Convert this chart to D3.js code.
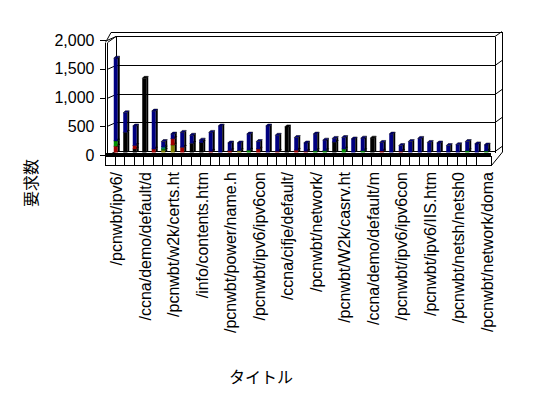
<!DOCTYPE html>
<html>
<head>
<meta charset="utf-8">
<script src="https://cdn.jsdelivr.net/npm/d3@7"></script>
<style>
  body { margin: 0; background: #fff; }
  text { font-family: "Liberation Sans", Arial, sans-serif; fill: #000; }
</style>
</head>
<body>
<script>
  // 40 categories, only every third one gets a label
  const categories = d3.range(40);
  const tickLabels = [
    '/pcnwbt/ipv6/', '/ccna/demo/default/d', '/pcnwbt/w2k/certs.ht', '/info/contents.htm',
    '/pcnwbt/power/name.h', '/pcnwbt/ipv6/ipv6con', '/ccna/cifje/default/', '/pcnwbt/network/',
    '/pcnwbt/W2k/casrv.ht', '/ccna/demo/default/m', '/pcnwbt/ipv6/ipv6con', '/pcnwbt/ipv6/IIS.htm',
    '/pcnwbt/netsh/netsh0', '/pcnwbt/network/doma'
  ];
  const yTicks = [0, 500, 1000, 1500, 2000];

  const black = [0,350,60,1290,0,0,0,0,160,170, 0,0,0,0,0,0,0,0,445,0, 0,0,0,180,0,0,0,250,0,0, 0,0,0,0,0,0,0,0,0,0];
  const olive = [0,0,0,0,0,40,130,0,0,0, 0,0,0,30,0,0,0,0,0,0, 0,0,0,0,0,0,0,0,0,0, 0,0,0,0,0,0,0,0,0,0];
  const red = [110,0,60,0,60,0,110,90,0,0, 20,0,30,0,0,60,0,20,0,40, 20,0,0,0,0,0,0,0,25,0, 20,0,0,0,0,0,0,0,0,0];
  const green = [90,0,0,0,0,25,0,0,0,0, 0,0,0,0,40,0,0,0,0,0, 0,30,30,0,60,0,30,0,0,0, 0,0,0,0,0,0,0,30,0,25];
  const teal = [0,0,0,0,0,30,0,0,0,0, 0,0,0,0,0,0,0,0,0,0, 0,0,0,0,0,0,0,0,0,0, 0,0,0,0,0,0,0,0,0,0];
  const navy = [1440,340,340,0,660,95,80,260,140,45, 330,460,135,135,280,130,460,280,0,220,
                145,290,185,65,200,235,220,0,150,320, 100,190,245,175,165,120,135,160,150,105];

  const seriesKeys = ['black', 'olive', 'red', 'green', 'teal', 'navy'];
  const colors = {
    black: '#000000', olive: '#808000', red: '#a00000',
    green: '#009000', teal: '#008080', navy: '#000080'
  };
  const table = categories.map((c, i) => ({
    cat: c, black: black[i], olive: olive[i], red: red[i],
    green: green[i], teal: teal[i], navy: navy[i]
  }));

  const width = 548;
  const height = 398;
  const depth = { x: 9, y: -4 };

  const svg = d3.select('body').append('svg')
    .attr('width', width)
    .attr('height', height);

  const x = d3.scaleBand()
    .domain(categories)
    .range([105, 485])
    .paddingInner(0)
    .paddingOuter(0);

  const y = d3.scaleLinear()
    .domain([0, 2000])
    .range([155, 40]);

  const x0 = 107, x1 = 486;
  const frame = svg.append('g')
    .attr('fill', 'none')
    .attr('stroke', '#000')
    .attr('stroke-width', 1)
    .attr('shape-rendering', 'crispEdges');

  // back wall gridlines and left wall diagonals
  yTicks.forEach((t) => {
    const yf = Math.round(y(t)) + 0.5;
    const yb = yf + depth.y;
    frame.append('line')
      .attr('x1', x0 + depth.x).attr('x2', x1 + depth.x)
      .attr('y1', yb).attr('y2', yb);
    frame.append('path')
      .attr('shape-rendering', 'auto')
      .attr('d', `M${x0},${yf}L${x0 + depth.x},${yb}`);
    frame.append('path')
      .attr('shape-rendering', 'auto')
      .attr('d', `M${x1 + depth.x},${yb}L${x1 + depth.x + 7},${yb - 5}`);
  });

  const yTop = Math.round(y(2000)) + 0.5;
  // wall outlines
  frame.append('path').attr('d', `M105.5,${yTop + 2}V165.5`);
  frame.append('path').attr('d', `M${x0 + 0.5},${yTop + 2}V156`);
  frame.append('path').attr('d', `M${x0 + depth.x + 0.5},${yTop + depth.y}V152`);
  frame.append('path').attr('d', `M${x1 + depth.x + 0.5},${yTop + depth.y}V153`);
  frame.append('path').attr('d', `M${x1 + depth.x + 7.5},${yTop + depth.y - 5}V152`);
  frame.append('path')
    .attr('shape-rendering', 'auto')
    .attr('d', `M105.5,${yTop + 2}L111,${yTop - 8}H${x1 + depth.x + 7.5}`);
  frame.append('path')
    .attr('shape-rendering', 'auto')
    .attr('d', `M${x0 + 0.5},${yTop + 2}L${x0 + depth.x},${yTop + depth.y}`);

  // floor
  svg.append('rect')
    .attr('x', 105).attr('y', 153)
    .attr('width', 386).attr('height', 3.5)
    .attr('fill', '#000');
  frame.append('rect')
    .attr('x', 105.5).attr('y', 156.5)
    .attr('width', 386).attr('height', 9);
  categories.slice(1).forEach((c) => {
    const xx = Math.round(x(c)) + 0.5;
    frame.append('line')
      .attr('x1', xx).attr('x2', xx)
      .attr('y1', 156.5).attr('y2', 165.5);
  });
  frame.append('path')
    .attr('shape-rendering', 'auto')
    .attr('d', `M491.5,165.5L${x1 + depth.x + 7.5},152`);

  // stacked 3d columns
  const stacked = d3.stack().keys(seriesKeys)(table);
  const bw = 4;
  const bd = { x: 2, y: -2 };
  const barsG = svg.append('g');

  categories.forEach((c, i) => {
    const cx = x(c) + x.bandwidth() / 2 + 7;
    const left = cx - bw / 2 - 1;
    stacked.forEach((s) => {
      const d = s[i];
      if (d[1] - d[0] <= 0) return;
      const yt = y(d[1]) - 2.5;
      const yb = y(d[0]) - 2.5;
      const col = colors[s.key];
      barsG.append('rect')
        .attr('x', left).attr('y', yt)
        .attr('width', bw).attr('height', yb - yt)
        .attr('fill', col);
      barsG.append('path')
        .attr('d', `M${left + bw},${yt}L${left + bw + bd.x},${yt + bd.y}L${left + bw + bd.x},${yb + bd.y}L${left + bw},${yb}Z`)
        .attr('fill', '#000');
      barsG.append('path')
        .attr('d', `M${left},${yt}L${left + bd.x},${yt + bd.y}L${left + bw + bd.x},${yt + bd.y}L${left + bw},${yt}Z`)
        .attr('fill', col)
        .attr('stroke', '#000')
        .attr('stroke-width', 0.5);
    });
  });

  // y axis
  const yAxis = svg.append('g')
    .attr('transform', 'translate(105.5,0)')
    .call(d3.axisLeft(y).tickValues(yTicks).tickFormat(d3.format(',')).tickSize(6).tickPadding(5))
    .attr('font-family', null)
    .attr('font-size', null);
  yAxis.select('.domain').remove();
  yAxis.selectAll('line').attr('stroke', '#000').attr('shape-rendering', 'crispEdges');
  yAxis.selectAll('text').attr('font-size', 16).attr('fill', '#000');

  // x labels, every third category
  svg.append('g')
    .selectAll('text')
    .data(tickLabels)
    .join('text')
    .attr('transform', (d, k) => {
      const c = categories[k * 3];
      const xx = x(c) + x.bandwidth() / 2 + 7;
      return `translate(${xx},172) rotate(-90)`;
    })
    .attr('text-anchor', 'end')
    .attr('dy', '0.35em')
    .attr('font-size', 16)
    .text((d) => d);

  // titles
  svg.append('text')
    .attr('transform', 'translate(31,183) rotate(-90)')
    .attr('text-anchor', 'middle')
    .attr('dy', '0.35em')
    .attr('font-size', 16)
    .style('font-family', '"Noto Sans CJK JP", sans-serif')
    .text('要求数');

  svg.append('text')
    .attr('x', 261)
    .attr('y', 377)
    .attr('text-anchor', 'middle')
    .attr('dy', '0.35em')
    .attr('font-size', 16)
    .style('font-family', '"Noto Sans CJK JP", sans-serif')
    .text('タイトル');
</script>
</body>
</html>
